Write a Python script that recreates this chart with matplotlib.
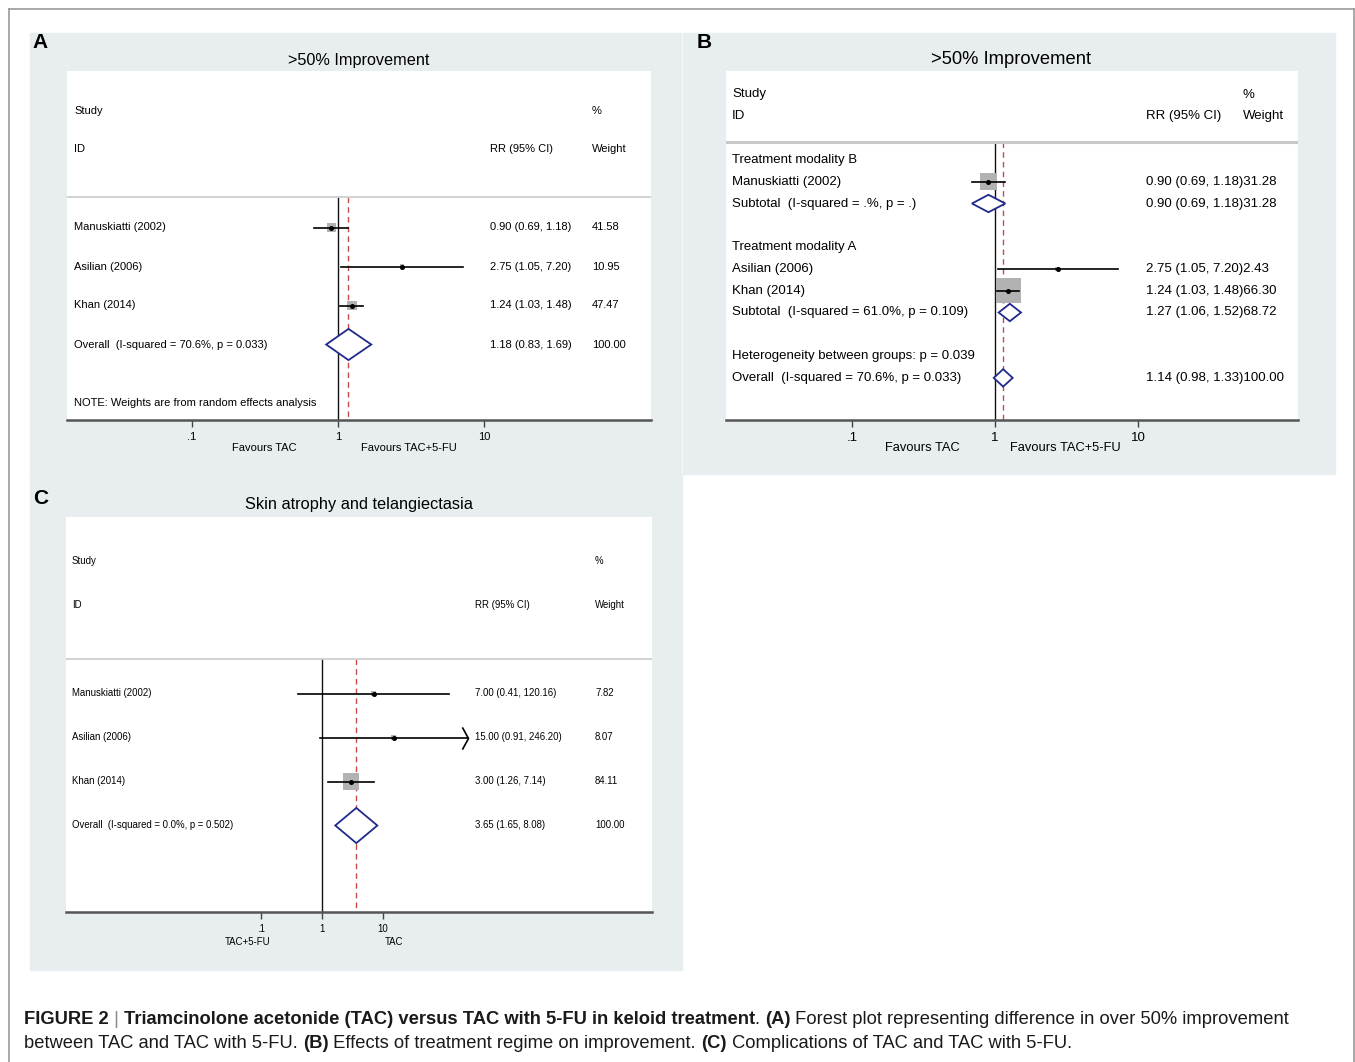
import numpy as np
import matplotlib
matplotlib.use('Agg')
from matplotlib import pyplot as plt
from matplotlib import font_manager
from matplotlib.patches import Rectangle, Polygon
from matplotlib.lines import Line2D
from matplotlib.path import Path
from matplotlib.transforms import blended_transform_factory

# ---- data: panel A (>50% improvement) ----
a_studies = ['Manuskiatti (2002)', 'Asilian (2006)', 'Khan (2014)']
a_rr = [0.90, 2.75, 1.24]
a_lo = [0.69, 1.05, 1.03]
a_hi = [1.18, 7.20, 1.48]
a_wt = [41.58, 10.95, 47.47]
a_overall_label = 'Overall  (I-squared = 70.6%, p = 0.033)'
a_overall = [1.18, 0.83, 1.69]
a_overall_wt = 100.00

# ---- data: panel B (by treatment modality) ----
b_groups = ['Treatment modality B', 'Treatment modality A']
b_studies = ['Manuskiatti (2002)', 'Asilian (2006)', 'Khan (2014)']
b_rr = [0.90, 2.75, 1.24]
b_lo = [0.69, 1.05, 1.03]
b_hi = [1.18, 7.20, 1.48]
b_wt = [31.28, 2.43, 66.30]
b_sub_labels = ['Subtotal  (I-squared = .%, p = .)', 'Subtotal  (I-squared = 61.0%, p = 0.109)']
b_sub_rr = [0.90, 1.27]
b_sub_lo = [0.69, 1.06]
b_sub_hi = [1.18, 1.52]
b_sub_wt = [31.28, 68.72]
b_het = 'Heterogeneity between groups: p = 0.039'
b_overall_label = 'Overall  (I-squared = 70.6%, p = 0.033)'
b_overall = [1.14, 0.98, 1.33]
b_overall_wt = 100.00

# ---- data: panel C (skin atrophy and telangiectasia) ----
c_studies = ['Manuskiatti (2002)', 'Asilian (2006)', 'Khan (2014)']
c_rr = [7.00, 15.00, 3.00]
c_lo = [0.41, 0.91, 1.26]
c_hi = [120.16, 246.20, 7.14]
c_wt = [7.82, 8.07, 84.11]
c_overall_label = 'Overall  (I-squared = 0.0%, p = 0.502)'
c_overall = [3.65, 1.65, 8.08]
c_overall_wt = 100.00

tick_vals = [0.1, 1, 10]
tick_labels = ['.1', '1', '10']

# ---- fonts / styles ----
names = {f.name for f in font_manager.fontManager.ttflist}
SANS = 'Liberation Sans' if 'Liberation Sans' in names else 'DejaVu Sans'
NARROW = 'Liberation Sans Narrow' if 'Liberation Sans Narrow' in names else SANS
narrow_ok = NARROW != SANS
plt.rcParams['font.family'] = [SANS, 'DejaVu Sans']

BG = '#e8eef0'
BOX = '#b2b2b2'
NAVY = '#1f2a8c'
RED = '#c94a4a'

W, H = 1355, 1062
fig = plt.figure(figsize=(W / 100, H / 100), dpi=100)
fig.patch.set_facecolor('white')


def fx(px):
    return px / W


def fy(py):
    return 1 - py / H


def ftext(px, py, s, **kw):
    return fig.text(fx(px), fy(py), s, **kw)


# outer frame
for xs, ys in [((9, 9), (9, H)), ((9, 1354), (9, 9)), ((1354, 1354), (9, H))]:
    fig.add_artist(Line2D([fx(x) for x in xs], [fy(y) for y in ys], color='#9a9a9a', lw=1.2))

# panel backgrounds
for x0, y0, x1, y1 in [(30, 33, 681, 474), (683, 33, 1335, 474), (30, 474, 682, 970)]:
    fig.add_artist(Rectangle((fx(x0), fy(y1)), (x1 - x0) / W, (y1 - y0) / H,
                             transform=fig.transFigure, color=BG, zorder=0))


def make_panel(x0, y0, x1, y1, null_px, decade, row0, rowh, size, font):
    ax = fig.add_axes([fx(x0), fy(y1), (x1 - x0) / W, (y1 - y0) / H])
    ax.set_facecolor('white')
    ax.set_xscale('log')
    ax.set_xlim(10 ** ((x0 - null_px) / decade), 10 ** ((x1 - null_px) / decade))
    ax.set_ylim((y1 - row0) / rowh, (y0 - row0) / rowh)
    for s in ['top', 'left', 'right']:
        ax.spines[s].set_visible(False)
    ax.spines['bottom'].set_color('#555555')
    ax.spines['bottom'].set_linewidth(1.8)
    ax.set_yticks([])
    ax.minorticks_off()
    ax.set_xticks(tick_vals)
    ax.set_xticklabels(tick_labels, fontsize=size, family=font)
    ax.tick_params(axis='x', which='both', direction='out', length=5, width=1,
                   color='#444444', pad=3.5)
    ax.tick_params(axis='x', which='minor', length=0)
    tr = blended_transform_factory(ax.transAxes, ax.transData)

    def col(px):
        return (px - x0) / (x1 - x0)
    return ax, tr, col


def forest_rows(ax, rows, rr, lo, hi, wt, k_px):
    side = [k_px * np.sqrt(w) * 0.72 for w in wt]
    ax.scatter(rr, rows, s=np.array(side) ** 2, marker='s', color=BOX, linewidths=0, zorder=2)
    for y, l, h in zip(rows, lo, hi):
        ax.plot([l, h], [y, y], color='black', lw=1.2, zorder=3)
    ax.plot(rr, rows, 'o', color='black', ms=2.6, zorder=4)


def diamond(ax, y, est, lo, hi, half=0.4):
    ax.add_patch(Polygon([(lo, y), (est, y - half), (hi, y), (est, y + half)], closed=True,
                         facecolor='white', edgecolor=NAVY, lw=1.3, zorder=3))


def ref_lines(ax, sep_row, est, bottom):
    ax.plot([1, 1], [sep_row, bottom], color='#111111', lw=1.0, zorder=1)
    ax.plot([est, est], [sep_row, bottom], color=RED, lw=1.0, dashes=(4, 3), zorder=1)


def fmt(r, l, h):
    return f'{r:.2f} ({l:.2f}, {h:.2f})'


# ================= Panel A =================
sa = 8.0
ax, tr, col = make_panel(67, 71, 651, 420, 338, 146, 110.5, 39, sa, SANS)
ybot = ax.get_ylim()[0]
ax.axhline(2.22, color='#cfcfcf', lw=1.3)
ref_lines(ax, 2.22, a_overall[0], ybot)
for txt, px, r in [('Study', 74, 0), ('%', 592, 0), ('ID', 74, 1), ('RR (95% CI)', 490, 1), ('Weight', 592, 1)]:
    ax.text(col(px), r, txt, transform=tr, fontsize=sa, va='center')
a_rows = [3, 4, 5]
forest_rows(ax, a_rows, a_rr, a_lo, a_hi, a_wt, 1.42)
for y, s, r, l, h, w in zip(a_rows, a_studies, a_rr, a_lo, a_hi, a_wt):
    ax.text(col(74), y, s, transform=tr, fontsize=sa, va='center')
    ax.text(col(490), y, fmt(r, l, h), transform=tr, fontsize=sa, va='center')
    ax.text(col(592), y, f'{w:.2f}', transform=tr, fontsize=sa, va='center')
diamond(ax, 6, *a_overall)
ax.text(col(74), 6, a_overall_label, transform=tr, fontsize=sa, va='center')
ax.text(col(490), 6, fmt(*a_overall), transform=tr, fontsize=sa, va='center')
ax.text(col(592), 6, f'{a_overall_wt:.2f}', transform=tr, fontsize=sa, va='center')
ax.text(col(74), 7.5, 'NOTE: Weights are from random effects analysis', transform=tr,
        fontsize=sa, va='center')
ftext(264, 448, 'Favours TAC', fontsize=sa, ha='center', va='center')
ftext(409, 448, 'Favours TAC+5-FU', fontsize=sa, ha='center', va='center')
ftext(359, 60, '>50% Improvement', fontsize=11.7, ha='center', va='center')
ftext(32, 43, 'A', fontsize=15, fontweight='bold', ha='left', va='center')

# ================= Panel B =================
sb = 9.5
ax, tr, col = make_panel(726, 71, 1298, 420, 995, 143, 94.5, 21.8, sb, SANS)
ybot = ax.get_ylim()[0]
ax.axhline(2.18, color='#c8c8c8', lw=2.2)
ref_lines(ax, 2.18, b_overall[0], ybot)
for txt, px, r in [('Study', 732, 0), ('%', 1243, 0), ('ID', 732, 1), ('RR (95% CI)', 1146, 1), ('Weight', 1243, 1)]:
    ax.text(col(px), r, txt, transform=tr, fontsize=sb, va='center')
for g, r in zip(b_groups, [3, 7]):
    ax.text(col(732), r, g, transform=tr, fontsize=sb, va='center')
b_rows = [4, 8, 9]
forest_rows(ax, b_rows, b_rr, b_lo, b_hi, b_wt, 3.0)
for y, s, r, l, h, w in zip(b_rows, b_studies, b_rr, b_lo, b_hi, b_wt):
    ax.text(col(732), y, s, transform=tr, fontsize=sb, va='center')
    ax.text(col(1146), y, fmt(r, l, h) + f'{w:.2f}', transform=tr, fontsize=sb, va='center')
for y, s, r, l, h, w in zip([5, 10], b_sub_labels, b_sub_rr, b_sub_lo, b_sub_hi, b_sub_wt):
    diamond(ax, y, r, l, h)
    ax.text(col(732), y, s, transform=tr, fontsize=sb, va='center')
    ax.text(col(1146), y, fmt(r, l, h) + f'{w:.2f}', transform=tr, fontsize=sb, va='center')
ax.text(col(732), 12, b_het, transform=tr, fontsize=sb, va='center')
diamond(ax, 13, *b_overall)
ax.text(col(732), 13, b_overall_label, transform=tr, fontsize=sb, va='center')
ax.text(col(1146), 13, fmt(*b_overall) + f'{b_overall_wt:.2f}', transform=tr, fontsize=sb,
        va='center')
ftext(922, 448, 'Favours TAC', fontsize=9.3, ha='center', va='center')
ftext(1065, 448, 'Favours TAC+5-FU', fontsize=9.3, ha='center', va='center')
ftext(1011, 60, '>50% Improvement', fontsize=13.2, ha='center', va='center')
ftext(697, 43, 'B', fontsize=15, fontweight='bold', ha='left', va='center')

# ================= Panel C =================
sc = 8.3 if narrow_ok else 6.9
ax, tr, col = make_panel(66, 517, 652, 912, 322, 61, 561.5, 44, sc, NARROW)
ybot = ax.get_ylim()[0]
ax.axhline(2.22, color='#cfcfcf', lw=1.3)
ref_lines(ax, 2.22, c_overall[0], ybot)
for txt, px, r in [('Study', 72, 0), ('%', 595, 0), ('ID', 72, 1), ('RR (95% CI)', 475, 1), ('Weight', 595, 1)]:
    ax.text(col(px), r, txt, transform=tr, fontsize=sc, family=NARROW, va='center')
c_rows = [3, 4, 5]
forest_rows(ax, c_rows, c_rr, c_lo, c_hi, c_wt, 1.75)
# open arrowhead on the truncated CI (Asilian)
chev = Path([(-0.55, 1.0), (0.0, 0.0), (-0.55, -1.0)], [Path.MOVETO, Path.LINETO, Path.LINETO])
ax.plot([c_hi[1]], [c_rows[1]], marker=chev, ms=16, mfc='none', mec='black', mew=1.2,
        zorder=3)
for y, s, r, l, h, w in zip(c_rows, c_studies, c_rr, c_lo, c_hi, c_wt):
    ax.text(col(72), y, s, transform=tr, fontsize=sc, family=NARROW, va='center')
    ax.text(col(475), y, fmt(r, l, h), transform=tr, fontsize=sc, family=NARROW, va='center')
    ax.text(col(595), y, f'{w:.2f}', transform=tr, fontsize=sc, family=NARROW, va='center')
diamond(ax, 6, *c_overall)
ax.text(col(72), 6, c_overall_label, transform=tr, fontsize=sc, family=NARROW, va='center')
ax.text(col(475), 6, fmt(*c_overall), transform=tr, fontsize=sc, family=NARROW, va='center')
ax.text(col(595), 6, f'{c_overall_wt:.2f}', transform=tr, fontsize=sc, family=NARROW,
        va='center')
ftext(248, 942, 'TAC+5-FU', fontsize=sc, family=NARROW, ha='center', va='center')
ftext(394, 942, 'TAC', fontsize=sc, family=NARROW, ha='center', va='center')
ftext(359, 504, 'Skin atrophy and telangiectasia', fontsize=11.8, ha='center', va='center')
ftext(33, 498, 'C', fontsize=15, fontweight='bold', ha='left', va='center')

# ================= Caption =================
CAP = NARROW
cap1 = [('FIGURE 2', 'bold', '#1a1a1a'), (' | ', 'normal', '#888888'),
        ('Triamcinolone acetonide (TAC) versus TAC with 5-FU in keloid treatment', 'bold', '#1a1a1a'),
        ('. ', 'normal', '#1a1a1a'), ('(A)', 'bold', '#1a1a1a'),
        (' Forest plot representing difference in over 50% improvement', 'normal', '#1a1a1a')]
cap2 = [('between TAC and TAC with 5-FU. ', 'normal', '#1a1a1a'), ('(B)', 'bold', '#1a1a1a'),
        (' Effects of treatment regime on improvement. ', 'normal', '#1a1a1a'),
        ('(C)', 'bold', '#1a1a1a'), (' Complications of TAC and TAC with 5-FU.', 'normal', '#1a1a1a')]

renderer = fig.canvas.get_renderer()


def piece_w(s, size, weight):
    t1 = fig.text(0, 0, '|' + s + '|', fontsize=size, fontweight=weight, family=CAP)
    t2 = fig.text(0, 0, '||', fontsize=size, fontweight=weight, family=CAP)
    w = t1.get_window_extent(renderer).width - t2.get_window_extent(renderer).width
    t1.remove()
    t2.remove()
    return w


base = 12.0
tot = sum(piece_w(s, base, wt) for s, wt, c in cap1)
cap_size = base * (1288 - 24) / tot
for line, py in [(cap1, 1019), (cap2, 1044)]:
    px = 24
    for s, wt, c in line:
        ftext(px, py, s, fontsize=cap_size, fontweight=wt, family=CAP, color=c, va='center')
        px += piece_w(s, cap_size, wt)

fig.savefig('out.png', dpi=100, facecolor='white')
